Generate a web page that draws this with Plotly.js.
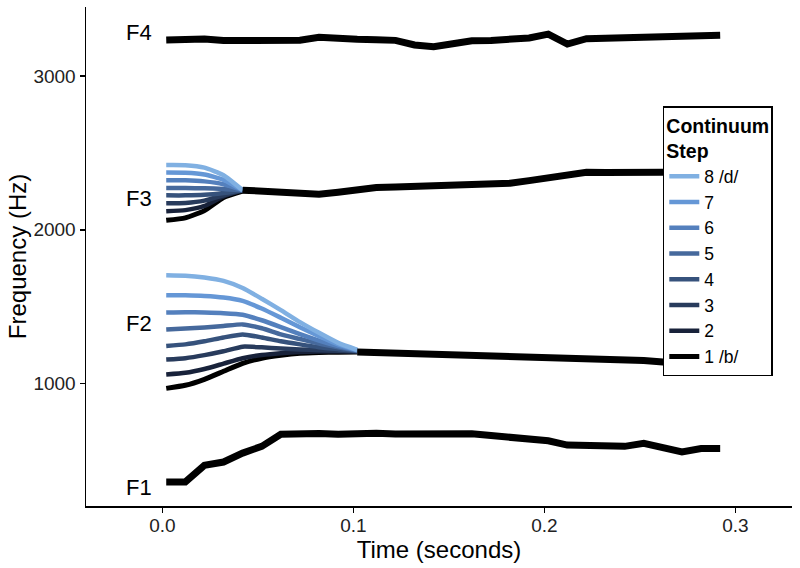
<!DOCTYPE html>
<html>
<head>
<meta charset="utf-8">
<script src="https://cdn.plot.ly/plotly-3.0.1.min.js"></script>
<style>
    html, body { margin: 0; padding: 0; background: #fff; }
    #chart { width: 800px; height: 568px; }
</style>
</head>
<body>
<div id="chart"></div>
<script>
/*
    Formant trajectories for a /b/-/d/ continuum.
    Step lines fan out at onset of F2 and F3, then join a shared track.
*/

// sample times (seconds)
const times = [0.002, 0.012, 0.022, 0.032, 0.042, 0.052, 0.062, 0.072, 0.082, 0.092,
    0.102, 0.112, 0.122, 0.132, 0.142, 0.152, 0.162, 0.172, 0.182, 0.192,
    0.202, 0.212, 0.222, 0.232, 0.242, 0.252, 0.262, 0.272, 0.282, 0.292];

// shared tracks (Hz)
const f1Hz = [360, 360, 468, 490, 548, 592, 670, 674, 676, 670,
    676, 677, 673, 674, 675, 678, 674, 662, 648, 640,
    628, 600, 599, 592, 592, 612, 582, 556, 578, 578];
const f4Hz = [3234, 3236, 3241, 3231, 3229, 3230, 3224, 3233, 3252, 3251,
    3239, 3236, 3232, 3202, 3191, 3210, 3230, 3231, 3238, 3248,
    3273, 3208, 3243, 3246, 3249, 3252, 3255, 3258, 3263, 3265];
// F2 after the fan has joined (from 0.102 s)
const f2Tail = [1206, 1202, 1200, 1200, 1200, 1196, 1192, 1188, 1182, 1176,
    1172, 1170, 1168, 1164, 1158, 1150, 1140, 1130, 1120, 1112];
// F3 after the fan has joined (from 0.042 s)
const f3Tail = [2258, 2249, 2239, 2232, 2232, 2245, 2262, 2275, 2279, 2283,
    2285, 2290, 2296, 2300, 2303, 2320, 2335, 2360, 2374, 2372,
    2370, 2372, 2374, 2376, 2378, 2380];

// onset fans, one row per continuum step (1 /b/ ... 8 /d/)
const f2Fan = [
    [969, 989, 1028, 1080, 1132, 1165, 1184, 1197, 1202, 1204, 1206],
    [1059, 1070, 1095, 1130, 1165, 1186, 1198, 1205, 1208, 1209, 1208],
    [1156, 1165, 1185, 1210, 1240, 1236, 1228, 1222, 1217, 1213, 1210],
    [1245, 1255, 1275, 1300, 1320, 1300, 1275, 1255, 1237, 1224, 1212],
    [1351, 1358, 1365, 1375, 1385, 1360, 1320, 1290, 1260, 1236, 1214],
    [1462, 1464, 1462, 1458, 1448, 1412, 1368, 1322, 1280, 1244, 1216],
    [1575, 1574, 1570, 1560, 1538, 1488, 1428, 1366, 1308, 1255, 1218],
    [1705, 1702, 1690, 1668, 1622, 1552, 1478, 1400, 1330, 1265, 1220],
];
const f3Fan = [
    [2062, 2078, 2125, 2210, 2252],
    [2120, 2128, 2155, 2218, 2256],
    [2172, 2175, 2190, 2225, 2258],
    [2224, 2224, 2228, 2240, 2258],
    [2272, 2272, 2270, 2266, 2258],
    [2322, 2322, 2315, 2296, 2258],
    [2372, 2371, 2360, 2325, 2258],
    [2421, 2420, 2404, 2355, 2258],
];

const stepLabels = ["1 /b/", "2", "3", "4", "5", "6", "7", "8 /d/"];
const stepColors = ["#000000", "#18223a", "#283b5c", "#36527c", "#46699c",
    "#5480bd", "#6597d6", "#80b0e2"];

// formant labels
const formantNames = ["F1", "F2", "F3", "F4"];
const formantLabelTime = [-0.012, -0.012, -0.012, -0.012];
const formantLabelHz = [325, 1392, 2206, 3286];

const FONT = "Liberation Sans, Arial, sans-serif";

function fanTrace(i) {
    let x = times.slice(0, f2Fan[i].length)
        .concat([null], times.slice(0, f3Fan[i].length));
    let y = f2Fan[i].concat([null], f3Fan[i]);
    return {
        type: "scatter",
        mode: "lines",
        name: stepLabels[i],
        legendrank: stepLabels.length - i,
        x: x,
        y: y,
        connectgaps: false,
        hoverinfo: "skip",
        line: { color: stepColors[i], width: i === 0 ? 5 : 4.5, shape: "spline", smoothing: 0.5 },
    };
}

function sharedTrace() {
    let x = times.concat([null], times.slice(10), [null], times.slice(4), [null], times);
    let y = f1Hz.concat([null], f2Tail, [null], f3Tail, [null], f4Hz);
    return {
        type: "scatter",
        mode: "lines",
        showlegend: false,
        x: x,
        y: y,
        connectgaps: false,
        hoverinfo: "skip",
        line: { color: "#000", width: 7 },
    };
}

let data = [];
for (let i = 0; i < stepLabels.length; i++) {
    data.push(fanTrace(i));
}
data.push(sharedTrace());

let annotations = formantNames.map((name, i) => ({
    x: formantLabelTime[i],
    y: formantLabelHz[i],
    xref: "x",
    yref: "y",
    text: name,
    showarrow: false,
    font: { family: FONT, size: 22, color: "#000" },
}));

let layout = {
    width: 800,
    height: 568,
    margin: { l: 86, r: 8, t: 7, b: 62 },
    paper_bgcolor: "#fff",
    plot_bgcolor: "#fff",
    font: { family: FONT, color: "#000" },
    showlegend: true,
    legend: {
        x: 0.817,
        y: 0.8015,
        xanchor: "left",
        yanchor: "top",
        bgcolor: "#fff",
        bordercolor: "#000",
        borderwidth: 1.5,
        traceorder: "normal",
        font: { family: FONT, size: 17.5, color: "#000" },
        title: { text: "<b>Continuum<br>Step</b>", font: { family: FONT, size: 19.5, color: "#000" } },
    },
    xaxis: {
        range: [-0.040, 0.3296],
        tickvals: [0, 0.1, 0.2, 0.3],
        ticktext: ["0.0", "0.1", "0.2", "0.3"],
        ticks: "outside",
        ticklen: 5,
        tickwidth: 1.5,
        tickcolor: "#000",
        ticklabelstandoff: -3,
        showline: true,
        linecolor: "#000",
        linewidth: 1.5,
        showgrid: false,
        zeroline: false,
        tickfont: { family: FONT, size: 19, color: "#222" },
        title: { text: "Time (seconds)", font: { family: FONT, size: 24, color: "#000" }, standoff: 0 },
    },
    yaxis: {
        range: [204, 3449],
        tickvals: [1000, 2000, 3000],
        ticks: "outside",
        ticklen: 5,
        tickwidth: 1.5,
        tickcolor: "#000",
        showline: true,
        linecolor: "#000",
        linewidth: 1.5,
        showgrid: false,
        zeroline: false,
        tickfont: { family: FONT, size: 19, color: "#222" },
        title: { text: "Frequency (Hz)", font: { family: FONT, size: 24, color: "#000" }, standoff: 0 },
    },
    annotations: annotations,
};

Plotly.newPlot("chart", data, layout, { staticPlot: true });
</script>
</body>
</html>
